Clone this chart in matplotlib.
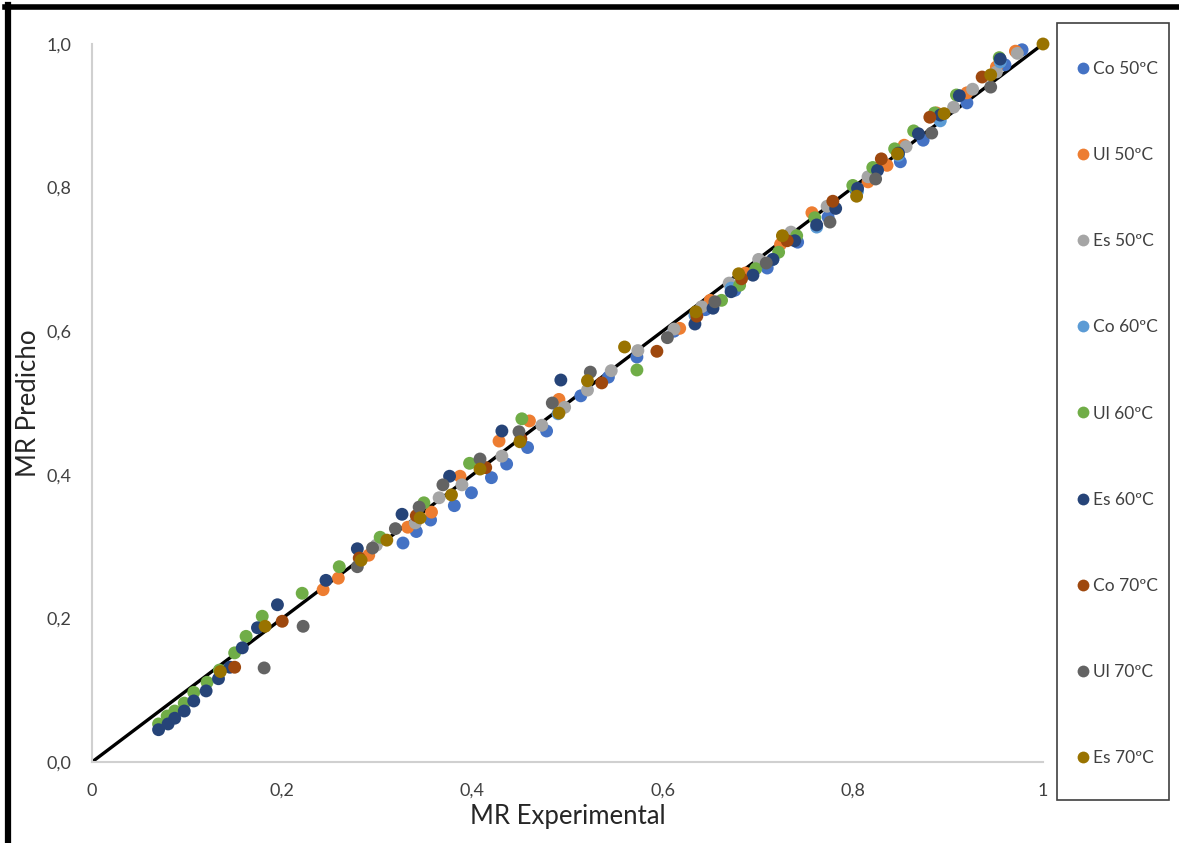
import matplotlib
matplotlib.use("Agg")
from matplotlib import pyplot as plt
from matplotlib.lines import Line2D
from matplotlib.patches import Rectangle

# MR experimental (x) vs MR predicted (y) for each sample / temperature
co50_x = [0.327, 0.341, 0.356, 0.381, 0.399, 0.420, 0.436, 0.458, 0.478, 0.514, 0.543, 0.573,
          0.612, 0.645, 0.676, 0.710, 0.742, 0.774, 0.803, 0.850, 0.874, 0.920, 0.960, 0.978]
co50_y = [0.305, 0.321, 0.337, 0.357, 0.375, 0.396, 0.415, 0.438, 0.461, 0.510, 0.536, 0.564,
          0.600, 0.630, 0.657, 0.688, 0.724, 0.759, 0.797, 0.836, 0.866, 0.918, 0.971, 0.992]

ul50_x = [0.243, 0.259, 0.291, 0.332, 0.357, 0.387, 0.428, 0.460, 0.491, 0.618, 0.650, 0.687,
          0.724, 0.757, 0.816, 0.836, 0.854, 0.888, 0.920, 0.951, 0.971]
ul50_y = [0.240, 0.256, 0.288, 0.327, 0.348, 0.398, 0.447, 0.475, 0.505, 0.604, 0.643, 0.681,
          0.721, 0.765, 0.808, 0.831, 0.859, 0.904, 0.932, 0.968, 0.990]

es50_x = [0.299, 0.340, 0.365, 0.389, 0.431, 0.473, 0.497, 0.521, 0.546, 0.574, 0.612, 0.641,
          0.670, 0.701, 0.735, 0.773, 0.816, 0.856, 0.906, 0.926, 0.951, 0.973]
es50_y = [0.302, 0.333, 0.368, 0.386, 0.426, 0.469, 0.494, 0.518, 0.545, 0.573, 0.603, 0.634,
          0.667, 0.700, 0.738, 0.774, 0.815, 0.857, 0.912, 0.937, 0.961, 0.987]

co60_x = [0.490, 0.634, 0.672, 0.716, 0.762, 0.805, 0.848, 0.892, 0.955]
co60_y = [0.485, 0.622, 0.660, 0.700, 0.745, 0.795, 0.845, 0.893, 0.975]

ul60_x = [0.070, 0.079, 0.087, 0.097, 0.107, 0.121, 0.134, 0.150, 0.162, 0.179, 0.221, 0.260,
          0.303, 0.349, 0.397, 0.452, 0.573, 0.662, 0.681, 0.698, 0.722, 0.741, 0.760, 0.800,
          0.821, 0.844, 0.864, 0.886, 0.909, 0.954]
ul60_y = [0.053, 0.064, 0.071, 0.082, 0.097, 0.111, 0.128, 0.152, 0.175, 0.203, 0.235, 0.272,
          0.313, 0.361, 0.416, 0.478, 0.546, 0.643, 0.664, 0.687, 0.710, 0.733, 0.758, 0.803,
          0.828, 0.854, 0.879, 0.904, 0.929, 0.981]

es60_x = [0.070, 0.080, 0.087, 0.097, 0.107, 0.120, 0.133, 0.145, 0.158, 0.174, 0.195, 0.246,
          0.279, 0.326, 0.376, 0.431, 0.493, 0.634, 0.653, 0.672, 0.695, 0.716, 0.739, 0.762,
          0.782, 0.805, 0.826, 0.848, 0.869, 0.892, 0.912, 0.955]
es60_y = [0.045, 0.053, 0.061, 0.071, 0.085, 0.099, 0.116, 0.132, 0.159, 0.187, 0.219, 0.253,
          0.297, 0.345, 0.398, 0.461, 0.532, 0.610, 0.632, 0.655, 0.678, 0.700, 0.726, 0.748,
          0.771, 0.799, 0.824, 0.848, 0.875, 0.901, 0.928, 0.979]

co70_x = [0.150, 0.200, 0.281, 0.341, 0.414, 0.451, 0.536, 0.594, 0.636, 0.683, 0.731, 0.779,
          0.830, 0.881, 0.936]
co70_y = [0.132, 0.196, 0.284, 0.343, 0.410, 0.450, 0.528, 0.572, 0.621, 0.673, 0.726, 0.781,
          0.840, 0.898, 0.954]

ul70_x = [0.181, 0.222, 0.279, 0.295, 0.319, 0.344, 0.369, 0.408, 0.449, 0.484, 0.524, 0.605,
          0.655, 0.709, 0.776, 0.824, 0.883, 0.945]
ul70_y = [0.131, 0.189, 0.272, 0.298, 0.325, 0.355, 0.386, 0.422, 0.460, 0.500, 0.543, 0.591,
          0.641, 0.695, 0.752, 0.812, 0.876, 0.940]

es70_x = [0.135, 0.182, 0.283, 0.310, 0.345, 0.378, 0.408, 0.450, 0.491, 0.521, 0.560, 0.635,
          0.680, 0.726, 0.804, 0.847, 0.896, 0.945, 1.000]
es70_y = [0.126, 0.189, 0.281, 0.309, 0.340, 0.372, 0.408, 0.446, 0.486, 0.531, 0.578, 0.627,
          0.680, 0.733, 0.788, 0.847, 0.903, 0.957, 1.000]

labels = ["Co 50ºC", "Ul 50ºC", "Es 50ºC", "Co 60ºC", "Ul 60ºC", "Es 60ºC",
          "Co 70ºC", "Ul 70ºC", "Es 70ºC"]
colors = ["#4472C4", "#ED7D31", "#A5A5A5", "#5B9BD5", "#70AD47", "#264478",
          "#9E480E", "#636363", "#997300"]
series = [(co50_x, co50_y), (ul50_x, ul50_y), (es50_x, es50_y),
          (co60_x, co60_y), (ul60_x, ul60_y), (es60_x, es60_y),
          (co70_x, co70_y), (ul70_x, ul70_y), (es70_x, es70_y)]

ticks = [0, 0.2, 0.4, 0.6, 0.8, 1.0]
xtick_labels = ["0", "0,2", "0,4", "0,6", "0,8", "1"]
ytick_labels = ["0,0", "0,2", "0,4", "0,6", "0,8", "1,0"]

plt.rcParams["font.family"] = ["Lato", "DejaVu Sans"]

W, H = 1179, 843
fig = plt.figure(figsize=(W / 100, H / 100), dpi=100)
ax = fig.add_axes([92 / W, 81 / H, 951 / W, 718 / H])

# 1:1 line
ax.plot([0, 1], [0, 1], color="black", lw=2.4, zorder=1)

handles = []
for (xs, ys), lab, col in zip(series, labels, colors):
    ax.scatter(xs, ys, s=86, color=col, edgecolors="none", zorder=2, clip_on=False)
    handles.append(Line2D([], [], marker="o", ls="none", markersize=8.5,
                          markerfacecolor=col, markeredgecolor="none", label=lab))

ax.set_xlim(0, 1)
ax.set_ylim(0, 1)
ax.set_xticks(ticks)
ax.set_xticklabels(xtick_labels)
ax.set_yticks(ticks)
ax.set_yticklabels(ytick_labels)
ax.tick_params(length=0, labelsize=13, labelcolor="#404040")
ax.tick_params(axis="x", pad=15)
ax.tick_params(axis="y", pad=15)
for side in ["top", "right"]:
    ax.spines[side].set_visible(False)
for side in ["left", "bottom"]:
    ax.spines[side].set_color("#D0D0D0")
    ax.spines[side].set_linewidth(1.5)

ax.set_xlabel("MR Experimental", fontsize=18.5, color="#262626", labelpad=4)
ax.set_ylabel("MR Predicho", fontsize=18.5, color="#262626", labelpad=4)

# legend box drawn separately so its size matches the original
fig.add_artist(Rectangle((1057 / W, 1 - 800 / H), 112 / W, 777 / H,
                         transform=fig.transFigure, fill=False,
                         edgecolor="#404040", lw=1.2))
leg = fig.legend(handles=handles, loc="upper left",
                 bbox_to_anchor=(1077 / W, 1 - 61 / H),
                 fontsize=12.5, frameon=False,
                 labelspacing=4.04, borderpad=0, handlelength=0.7,
                 handletextpad=0.2, borderaxespad=0)
for t in leg.get_texts():
    t.set_color("#404040")

# thick frame at top and left like the original screenshot
fig.add_artist(Line2D([5 / W, 1], [1 - 7 / H, 1 - 7 / H],
                      transform=fig.transFigure, color="black", lw=4))
fig.add_artist(Line2D([8 / W, 8 / W], [0, 1 - 5 / H],
                      transform=fig.transFigure, color="black", lw=4.5))

fig.savefig("out.png", dpi=100)
